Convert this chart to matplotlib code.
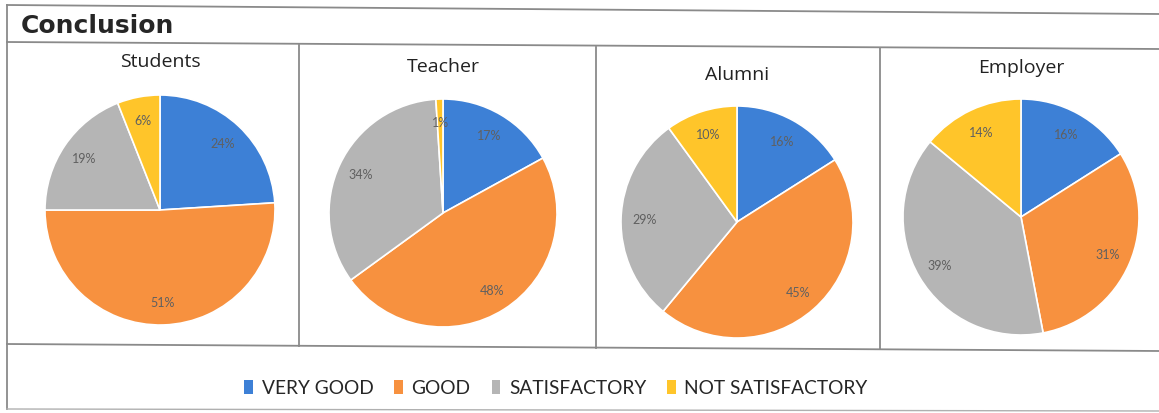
import matplotlib
matplotlib.use("Agg")
import matplotlib.pyplot as plt
from matplotlib.lines import Line2D
from matplotlib.patches import Patch

W, H = 1159, 414

categories = ["VERY GOOD", "GOOD", "SATISFACTORY", "NOT SATISFACTORY"]
groups = ["Students", "Teacher", "Alumni", "Employer"]
students = [24, 51, 19, 6]
teacher = [17, 48, 34, 1]
alumni = [16, 45, 29, 10]
employer = [16, 31, 39, 14]
series = [students, teacher, alumni, employer]

colors = ["#3d80d6", "#f7913f", "#b5b5b5", "#ffc52a"]

plt.rcParams['font.family'] = ['Lato', 'DejaVu Sans']

fig = plt.figure(figsize=(W / 100, H / 100), dpi=100)
fig.patch.set_facecolor("white")


def fx(x):
    return x / W


def fy(y):
    return 1 - y / H


def line(x0, y0, x1, y1, lw=1.3, color="#8a8a8a"):
    fig.add_artist(Line2D([fx(x0), fx(x1)], [fy(y0), fy(y1)],
                          transform=fig.transFigure, color=color, lw=lw))


# frame lines (slightly skewed like the scan)
line(7, 6, 1159, 15)
line(7, 43, 1159, 50)
line(7, 6, 7, 410)
line(7, 345, 1159, 352)
line(7, 410, 1159, 412, lw=1.0, color="#b0b0b0")
for xs in [299, 596, 880]:
    line(xs, 44 + xs * 0.006, xs, 345 + xs * 0.006)

fig.text(fx(21), fy(26), "Conclusion", fontsize=18, fontweight="bold",
         color="#262626", ha="left", va="center", family="DejaVu Sans")

# pie geometry (center x, center y, radius, title y) in pixels
geom = [(160, 211, 115, 62), (443, 214, 114, 67),
        (737, 223, 116, 75), (1021, 218, 118, 68)]

for vals, name, (cx, cy, r, ty) in zip(series, groups, geom):
    ax = fig.add_axes([fx(cx - r), fy(cy + r), 2 * r / W, 2 * r / H])
    wedges, texts, autotexts = ax.pie(
        vals, colors=colors, startangle=90, counterclock=False,
        autopct=lambda p: f"{p:.0f}%", pctdistance=0.8,
        wedgeprops=dict(edgecolor="white", linewidth=1.2),
        textprops=dict(fontsize=9, color="#606060"))
    ax.set_xlim(-1, 1)
    ax.set_ylim(-1, 1)
    ax.set_aspect("equal")
    ax.axis("off")
    fig.text(fx(cx), fy(ty), name, fontsize=14, color="#222222",
             ha="center", va="center", family="Open Sans")

handles = [Patch(facecolor=c, edgecolor="none") for c in colors]
fig.legend(handles, categories, loc="center", ncol=4,
           bbox_to_anchor=(fx(556), fy(389)), frameon=False,
           fontsize=13.8, handlelength=0.45, handleheight=0.7,
           handletextpad=0.45, columnspacing=1.1,
           labelcolor="#262626")

fig.savefig("out.png", dpi=100, facecolor="white")
